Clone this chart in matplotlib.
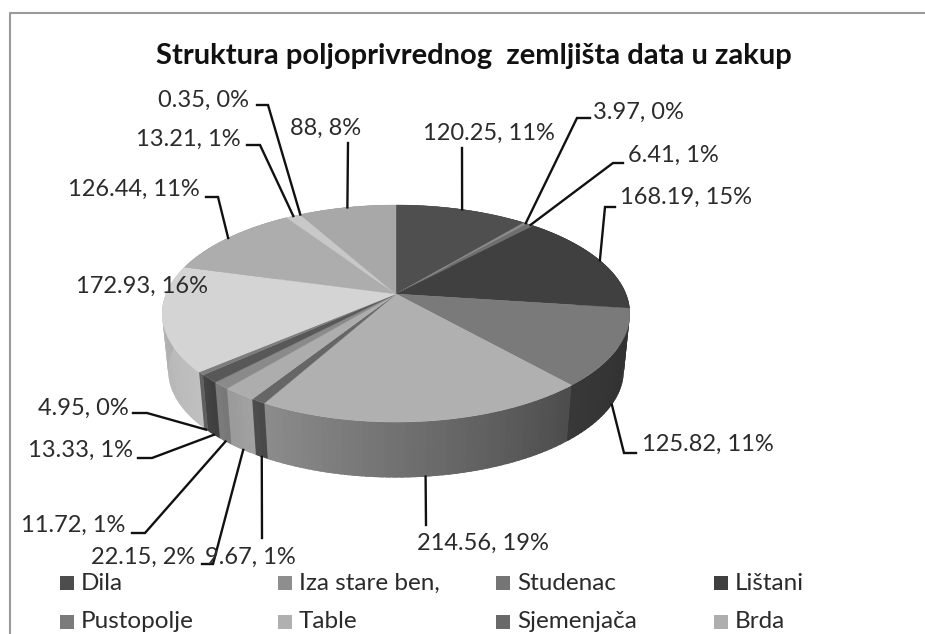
import numpy as np
import matplotlib
matplotlib.use("Agg")
import matplotlib.pyplot as plt
from matplotlib.colors import to_rgb
from matplotlib.patches import Polygon, Rectangle

plt.rcParams['font.family'] = ['Lato', 'DejaVu Sans']

title = "Struktura poljoprivrednog  zemljišta data u zakup"
values = [120.25, 3.97, 6.41, 168.19, 125.82, 214.56, 9.67, 22.15,
          11.72, 13.33, 4.95, 172.93, 126.44, 13.21, 0.35, 88]
percents = [11, 0, 1, 15, 11, 19, 1, 2, 1, 1, 0, 16, 11, 1, 0, 8]
legend_names = ["Dila", "Iza stare ben,", "Studenac", "Lištani",
                "Pustopolje", "Table", "Sjemenjača", "Brda"]

# boje: gornja ploha i bok (lijevo / desno)
top_colors = ['#4f4f4f', '#8c8c8c', '#6f6f6f', '#404040', '#7a7a7a', '#b0b0b0', '#666666', '#adadad',
              '#8a8a8a', '#585858', '#7d7d7d', '#d4d4d4', '#adadad', '#c8c8c8', '#bbbbbb', '#a8a8a8']
side_right = ['#3a3a3a', '#666666', '#555555', '#2e2e2e', '#2f2f2f', '#4c4c4c', '#474747', '#a2a2a2',
              '#767676', '#3e3e3e', '#606060', '#c0c0c0', '#909090', '#aaaaaa', '#a0a0a0', '#8c8c8c']
side_left = ['#3a3a3a', '#666666', '#555555', '#2e2e2e', '#383838', '#8c8c8c', '#4d4d4d', '#9a9a9a',
             '#7c7c7c', '#444444', '#606060', '#a8a8a8', '#909090', '#aaaaaa', '#a0a0a0', '#8c8c8c']
legend_colors = ['#4d4d4d', '#8e8e8e', '#757575', '#404040', '#7b7b7b', '#b0b0b0', '#696969', '#aeaeae']

# polozaj tekstu: x, y, ha, lakat linije (None = bez linije)
label_pos = [
    (489, 133, 'center', [(462, 148)]),
    (593, 112, 'left', [(590, 118), (577, 118)]),
    (628, 155, 'left', [(623, 163), (613, 163)]),
    (620, 197, 'left', [(615, 207), (605, 207)]),
    (642, 444, 'left', [(636, 453), (624, 453)]),
    (483, 543, 'center', [(426, 525)]),
    (250, 557, 'center', [(262, 538)]),
    (143, 557, 'center', [(202, 564), (213, 564)]),
    (73, 525, 'center', [(132, 533), (145, 533)]),
    (80, 450, 'center', [(138, 458), (152, 458)]),
    (83, 408, 'center', [(133, 413), (147, 413)]),
    (142, 286, 'center', None),
    (134, 189, 'center', [(206, 197), (218, 197)]),
    (188, 139, 'center', [(247, 145), (260, 145)]),
    (204, 100, 'center', [(257, 105), (268, 105)]),
    (326, 128, 'center', [(348, 143)]),
]

cx, cy = 396, 294  # srodek kola na ekranie
a, b, p = 230, 105, 0.18  # perspektywa
bot_sx, bot_sy, bot_dy = 227 / 233, 107 / 108.5, 57


def rim(ang):
    # kat od gory, zgodnie z zegarem
    c, s = np.sin(ang), -np.cos(ang)
    d = 1 - p * s
    return cx + a * c / d, cy + b * s / d


def rim_bottom(ang):
    x, y = rim(ang)
    return cx + bot_sx * (x - cx), 313 + bot_dy + bot_sy * (y - 313)


fig = plt.figure(figsize=(9.25, 6.34), dpi=100)
ax = fig.add_axes([0, 0, 1, 1])
ax.set_xlim(0, 925)
ax.set_ylim(634, 0)
ax.axis('off')

vals = np.array(values)
edges = np.concatenate([[0], np.cumsum(vals)]) / vals.sum() * 2 * np.pi

# boki - paski zachodza na nastepny, zeby nie bylo prazkow
for i in range(len(vals)):
    n = max(2, int((edges[i + 1] - edges[i]) * 40))
    t = np.linspace(edges[i], edges[i + 1], n + 1)
    cr = np.array(to_rgb(side_right[i]))
    cl = np.array(to_rgb(side_left[i]))
    for j in range(n):
        seg = np.linspace(t[j], min(t[j + 1] + 0.02, edges[i + 1] + 0.004), 4)
        x1, y1 = rim(seg)
        x2, y2 = rim_bottom(seg)
        pts = np.column_stack([np.r_[x1, x2[::-1]], np.r_[y1, y2[::-1]]])
        col = cr + (cl - cr) * (j + 0.5) / n
        ax.add_patch(Polygon(pts, closed=True, fc=col, ec='none', zorder=2))

# gorna ploha
for i in range(len(vals)):
    t = np.linspace(edges[i], edges[i + 1], max(3, int((edges[i + 1] - edges[i]) * 60)))
    x, y = rim(t)
    pts = np.column_stack([np.r_[cx, x], np.r_[cy, y]])
    ax.add_patch(Polygon(pts, closed=True, fc=top_colors[i], ec=top_colors[i], lw=0.3, zorder=3))

# etykiety i linie
for i, (tx, ty, ha, elbow) in enumerate(label_pos):
    ax.text(tx, ty, f"{values[i]:g}, {percents[i]}%", ha=ha, va='center',
            fontsize=17, color='#2b2b2b', zorder=6)
    if elbow is None:
        continue
    mid = (edges[i] + edges[i + 1]) / 2
    end = rim_bottom(mid) if -np.cos(mid) > 0 else rim(mid)
    px = [e[0] for e in elbow] + [end[0]]
    py = [e[1] for e in elbow] + [end[1]]
    ax.plot(px, py, color='#111111', lw=1.7, solid_joinstyle='miter', zorder=5)

ax.text(474, 56, title, ha='center', va='center', fontsize=21, fontweight='bold', color='#111111')

# legenda (ostatni rzad uciety)
col_sw = [60, 278, 496, 714]
row_y = [583, 622]
for i, name in enumerate(legend_names):
    x0 = col_sw[i % 4]
    y0 = row_y[i // 4]
    ax.add_patch(Rectangle((x0, y0 - 7), 14, 14, fc=legend_colors[i], ec='none'))
    ax.text(x0 + 21, y0, name, ha='left', va='center', fontsize=17.5, color='#2b2b2b')

# ramka
ax.plot([10, 10, 925], [634, 12.5, 12.5], color='#9a9a9a', lw=1.5)

fig.savefig('out.png', dpi=100)
